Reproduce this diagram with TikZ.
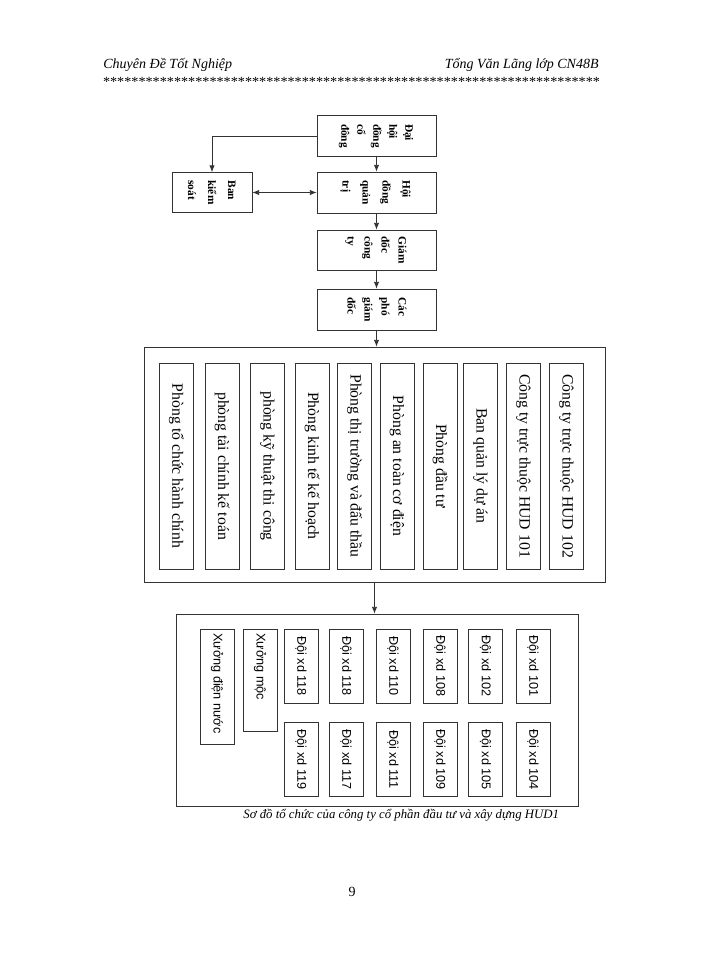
\documentclass[tikz,border=0pt]{standalone}
\usepackage{fontspec}
\setmainfont{Liberation Serif}
\setsansfont{Liberation Sans}
\usepackage{graphicx}
\usetikzlibrary{arrows.meta}

\tikzset{every picture/.style={line width=0.6pt}}
\tikzset{
  box/.style={draw=black!80, inner sep=0pt},
  smallbox/.style={box, minimum width=89.25pt, minimum height=30.75pt},
  colbox/.style={box, minimum width=25.5pt, minimum height=154.5pt},
  teambox/.style={box, minimum width=25.5pt, minimum height=55.5pt},
  arr/.style={draw=black!80, -{Latex[length=5pt,width=4pt]}},
  darr/.style={draw=black!80, {Latex[length=5pt,width=4pt]}-{Latex[length=5pt,width=4pt]}},
}
% rotated texts, read from top to bottom
\newcommand{\vlines}[2]{\rotatebox{-90}{\fontsize{8.5}{#1}\selectfont\bfseries\begin{tabular}{@{}l@{}}#2\end{tabular}}}
\newcommand{\vcol}[1]{\rotatebox{-90}{\fontsize{11.8}{14}\selectfont #1}}
\newcommand{\vteam}[1]{\rotatebox{-90}{\sffamily\fontsize{9.5}{11}\selectfont #1}}
\newcommand{\vshop}[2]{\rotatebox{-90}{\makebox[#1][l]{\sffamily\fontsize{9.5}{11}\selectfont #2}}}

\begin{document}
\begin{tikzpicture}[x=0.75pt,y=0.75pt,yscale=-1,xscale=1]
	\useasboundingbox[fill=white] (0,0) rectangle (700,960);

	% Header
	\node[anchor=west, inner sep=0pt] (headl) at (103,65) {\itshape\fontsize{10.5}{12}\selectfont Chuyên Đề Tốt Nghiệp};
	\node[anchor=east, inner sep=0pt] (headr) at (599,65) {\itshape\fontsize{10.5}{12}\selectfont Tổng Văn Lãng lớp CN48B};
	\node[inner sep=0pt] (stars) at (351.5,82) {\resizebox{372.75pt}{\height}{\fontsize{10.5}{12}\selectfont **********************************************************************}};

	%Shape: Rectangle [top boxes]
	\node[smallbox] (dhcd) at (376.5,136) {\vlines{12}{Đại\\hội\\đồng\\cổ\\đông}};
	\node[smallbox] (hdqt) at (376.5,192.5) {\vlines{15}{Hội\\đồng\\quản\\trị}};
	\node[box, minimum width=60pt, minimum height=30pt] (bks) at (212,192.5) {\vlines{15}{Ban\\kiểm\\soát}};
	\node[smallbox, minimum height=30pt] (gd) at (376.5,250) {\vlines{12.75}{Giám\\đốc\\công\\ty}};
	\node[smallbox] (pgd) at (376.5,309.5) {\vlines{12.75}{Các\\phó\\giám\\đốc}};

	%Shape: Rectangle [departments]
	\node[box, minimum width=345.75pt, minimum height=176.25pt] (phong) at (374.5,464.5) {};
	\node[colbox] (p1) at (176.5,466) {\vcol{Phòng tổ chức hành chính}};
	\node[colbox] (p2) at (222,466) {\vcol{phòng tài chính kế toán}};
	\node[colbox] (p3) at (267.5,466) {\vcol{phòng kỹ thuật thi công}};
	\node[colbox] (p4) at (312,466) {\vcol{Phòng kinh tế kế hoạch}};
	\node[colbox] (p5) at (354.5,466) {\vcol{Phòng thị trường và đấu thầu}};
	\node[colbox] (p6) at (397,466) {\vcol{Phòng an toàn cơ điện}};
	\node[colbox] (p7) at (440,466) {\vcol{Phòng đầu tư}};
	\node[colbox] (p8) at (480.5,466) {\vcol{Ban quản lý dự án}};
	\node[colbox] (p9) at (523.5,466) {\vcol{Công ty trực thuộc HUD 101}};
	\node[colbox] (p10) at (566.5,466) {\vcol{Công ty trực thuộc HUD 102}};

	%Shape: Rectangle [workshops and teams]
	\node[box, minimum width=301.5pt, minimum height=144pt] (xuong) at (377,710) {};
	\node[box, minimum width=25.5pt, minimum height=86.25pt] (xdn) at (217,686.5) {\vshop{80pt}{Xưởng điện nước}};
	\node[box, minimum width=25.5pt, minimum height=76.5pt] (xm) at (260,680) {\vshop{70pt}{Xưởng mộc}};
	\node[teambox] (d118) at (301,666) {\vteam{Đội xd 118}};
	\node[teambox] (d116) at (346,666) {\vteam{Đội xd 118}};
	\node[teambox] (d110) at (393,666) {\vteam{Đội xd 110}};
	\node[teambox] (d108) at (440,666) {\vteam{Đội xd 108}};
	\node[teambox] (d102) at (485.5,666) {\vteam{Đội xd 102}};
	\node[teambox] (d101) at (533,666) {\vteam{Đội xd 101}};
	\node[teambox] (d119) at (301,759.5) {\vteam{Đội xd 119}};
	\node[teambox] (d117) at (346,759.5) {\vteam{Đội xd 117}};
	\node[teambox] (d111) at (393,759.5) {\vteam{Đội xd 111}};
	\node[teambox] (d109) at (440,759.5) {\vteam{Đội xd 109}};
	\node[teambox] (d105) at (485.5,759.5) {\vteam{Đội xd 105}};
	\node[teambox] (d104) at (533,759.5) {\vteam{Đội xd 104}};

	%Straight Lines
	\draw[arr] (dhcd) -- (hdqt);
	\draw[arr] (dhcd.west) -| (bks.north);
	\draw[darr] (bks) -- (hdqt);
	\draw[arr] (hdqt) -- (gd);
	\draw[arr] (gd) -- (pgd);
	\draw[arr] (pgd.south) -- (pgd.south |- phong.north);
	\draw[arr] (phong.south) -- (phong.south |- xuong.north);

	% Text Node
	\node[anchor=west, inner sep=0pt] (caption) at (243,815) {\itshape\fontsize{9.6}{12}\selectfont Sơ đồ tổ chức của công ty cổ phần đầu tư và xây dựng HUD1};
	% Text Node
	\node (pageno) at (352,892) {\fontsize{10.5}{12}\selectfont 9};

\end{tikzpicture}
\end{document}
